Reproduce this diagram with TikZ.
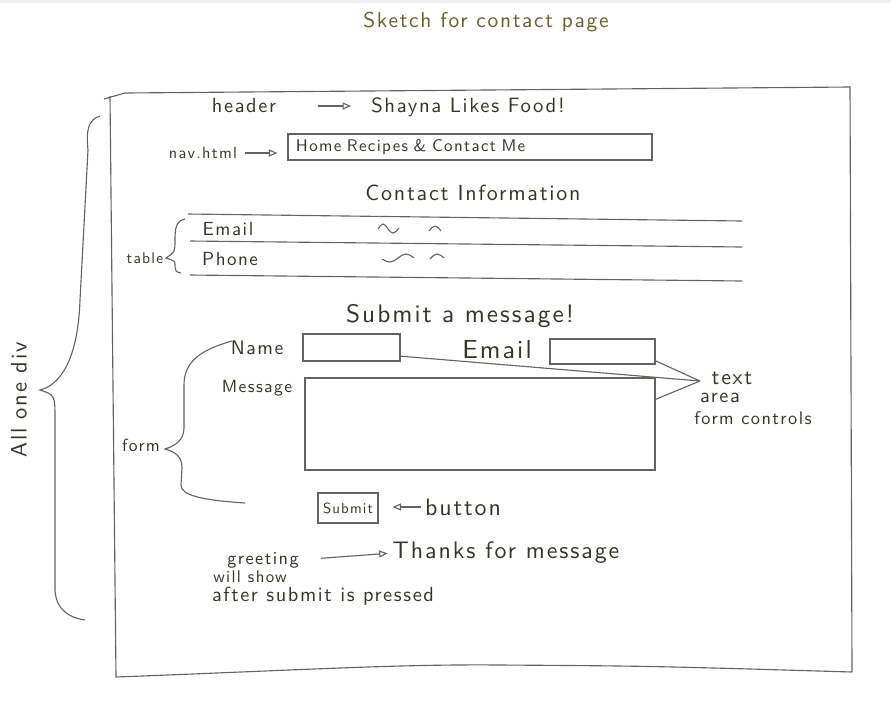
\documentclass[tikz,border=0pt]{standalone}
\usepackage{fontspec}
\newfontfamily\handfont[LetterSpace=8]{lmsans10-regular.otf}
\usetikzlibrary{arrows.meta,positioning}
\definecolor{pencil}{RGB}{100,100,95}
\definecolor{ink}{RGB}{55,52,40}
\definecolor{olive_ink}{RGB}{105,95,40}

\begin{document}
\begin{tikzpicture}[x=0.025cm,y=-0.025cm]
        \tikzset{
            hand/.style={
                font=\handfont\fontsize{#1}{#1}\selectfont,
                text=ink,
                inner sep=0pt
            },
            box/.style={
                draw=pencil,
                line width=0.8pt,
                inner sep=0pt
            },
            pen/.style={draw=pencil, line width=0.8pt},
            tip/.style={pen, -{Triangle[open,length=6pt,width=5pt]}}
        }
        \useasboundingbox (0,0) rectangle (891,719);
        \fill[gray!12] (0,0) rectangle (891,3);

        %titulo
        \node[hand=15.2, text=olive_ink] (title) at (486,22) {Sketch for contact page};

        %pagina
        \draw[pen] (104,99) -- (125,93) -- (850,87) -- (852,672);
        \draw[pen] (110,96) -- (116,677);
        \draw[pen] (116,677) .. controls (300,670) and (400,664) .. (500,665) .. controls (650,666) .. (852,672);

        %chave da div
        \draw[pen] (100,116) .. controls (88,120) and (86,130) .. (88,150) -- (80,300)
            .. controls (78,360) and (60,385) .. (40,390) .. controls (55,395) .. (55,420)
            -- (55,590) .. controls (56,610) and (70,618) .. (85,620);
        \node[hand=16, rotate=90] (alldiv) at (19,400) {All one div};

        %cabecalho e nav
        \node[hand=14.5] (hdr) at (244,106) {header};
        \node[hand=14.7] (shayna) at (468,107) {Shayna Likes Food!};
        \draw[tip, shorten <=1.05cm, shorten >=0.5cm] (hdr.east) -- (shayna.west |- hdr.east);

        \node[hand=11.5] (navfile) at (203,153) {nav.html};
        \node[box, hand=12, minimum width=9.1cm, minimum height=0.65cm,
              text width=8.7cm, align=left] (navbox) at (470,147) {Home Recipes \& Contact Me};
        \draw[tip, shorten <=0.2cm, shorten >=0.25cm] (navfile.east) -- (navbox.west |- navfile.east);

        %tabela
        \node[hand=15.6] (contact) at (473,193) {Contact Information};
        \draw[pen] (188,214) -- (742,221);
        \draw[pen] (190,241) -- (742,247);
        \draw[pen] (190,275) -- (742,281);

        \node[hand=13.5] (rowemail) at (228,229) {Email};
        \node[hand=13.5] (rowphone) at (230,259) {Phone};
        \draw[pen] (378,229) sin (383,224) cos (388,229) sin (393,233) cos (399,228);
        \draw[pen] (429,231) sin (435,226) cos (441,231);
        \draw[pen] (382,259) sin (390,262) cos (398,258) sin (406,254) cos (414,258);
        \draw[pen] (430,259) sin (437,254) cos (444,258);

        \draw[pen] (185,219) .. controls (176,221) and (175,228) .. (175,240)
            .. controls (175,252) .. (166,258) .. controls (175,261) .. (175,265)
            .. controls (175,271) and (176,272) .. (181,273);
        \node[hand=11] (tablelbl) at (145,258) {table};

        %formulario
        \node[hand=18] (submitmsg) at (460,316) {Submit a message!};

        \node[hand=14] (namelbl) at (257,348) {Name};
        \node[box, minimum width=2.425cm, minimum height=0.675cm] (namebox) at (351.5,347.5) {};
        \node[hand=18.5] (emaillbl) at (497,350) {Email};
        \node[box, minimum width=2.625cm, minimum height=0.625cm] (emailbox) at (602.5,351.5) {};
        \node[hand=12.5] (msglbl) at (257,388) {Message};
        \node[box, minimum width=8.75cm, minimum height=2.3cm] (msgbox) at (480,424) {};

        \coordinate (ctltip) at (700,381);
        \draw[pen] (namebox.-10) -- (ctltip);
        \draw[pen] (emailbox.-10) -- (ctltip);
        \draw[pen] (msgbox.8) -- (ctltip);
        \node[hand=15.5, anchor=base] (textlbl) at (732,384) {text};
        \node[hand=14.5, anchor=base] (arealbl) at (720,402) {area};
        \node[hand=13, anchor=base] (ctllbl) at (753,424) {form controls};

        \draw[pen] (232,341) .. controls (200,350) and (184,362) .. (184,385) -- (184,428)
            .. controls (184,440) and (175,446) .. (165,449) .. controls (175,452) and (182,456) .. (182,468)
            -- (181,485) .. controls (181,495) and (200,500) .. (245,503);
        \node[hand=12.5] (formlbl) at (141,445) {form};

        \node[box, hand=10.5, minimum width=1.5cm, minimum height=0.75cm] (subbtn) at (348,508) {Submit};
        \node[hand=17] (btnlbl) at (463,507) {button};
        \draw[tip, shorten <=0.1cm, shorten >=0.35cm] (btnlbl.west) -- (subbtn.east |- btnlbl.west);

        %mensagem final
        \node[hand=13, anchor=base] (greet) at (263,564) {greeting};
        \node[hand=12, anchor=base] (willshow) at (250,582) {will show};
        \node[hand=14.5, anchor=base] (afterlbl) at (323,601) {after submit is pressed};
        \node[hand=17] (thanks) at (506,553) {Thanks for message};
        \draw[tip, shorten <=0.55cm, shorten >=0.12cm] (greet.east) -- (thanks.west);

    \end{tikzpicture}
\end{document}
